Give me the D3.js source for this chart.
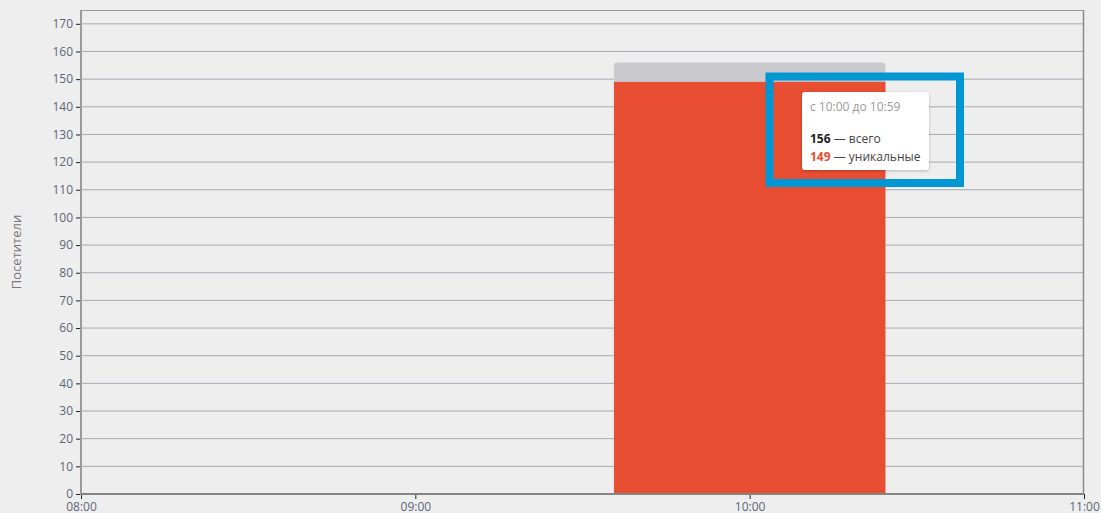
<!DOCTYPE html>
<meta charset="utf-8">
<script src="https://d3js.org/d3.v7.min.js"></script>
<style>
  body { margin: 0; background: #eeeeee; font-family: "Open Sans", sans-serif; }
</style>
<div id="chart"></div>
<script>
// data
const hours = ["08:00", "09:00", "10:00", "11:00"];
const yTicks = d3.range(0, 171, 10);
const barHour = ["10:00"];
const totalVisits = [156];
const uniqueVisits = [149];
const tooltipTitle = "с 10:00 до 10:59";

const W = 1101, H = 513;
const margin = {top: 10, right: 17, bottom: 19, left: 81};
const width = W - margin.left - margin.right,
      height = H - margin.top - margin.bottom;

const svg = d3.select("#chart").append("svg")
    .attr("width", W).attr("height", H)
    .style("display", "block");

const g = svg.append("g").attr("transform", `translate(${margin.left},${margin.top})`);

const parse = d3.timeParse("%H:%M");
const x = d3.scaleTime()
  .domain([parse(hours[0]), parse(hours[hours.length - 1])])
  .range([0, width]);
const y = d3.scaleLinear().domain([0, 175]).range([height, 0]);

// gridlines
g.selectAll(".grid").data(yTicks.slice(1)).join("line")
  .attr("x1", 0).attr("x2", width)
  .attr("y1", d => y(d)).attr("y2", d => y(d))
  .attr("stroke", "#a9abb3").attr("stroke-width", 1);

// frame top / right
g.append("line").attr("x1", 0).attr("x2", width).attr("y1", 0.5).attr("y2", 0.5)
  .attr("stroke", "#9a9a9a");
g.append("line").attr("x1", width - 0.5).attr("x2", width - 0.5).attr("y1", 0).attr("y2", height)
  .attr("stroke", "#8a8a8a").attr("stroke-width", 1.5);

// bars
const hourW = x(parse("09:00")) - x(parse("08:00"));
const bw = hourW * 0.812;
const bars = barHour.map((h, i) => ({t: parse(h), total: totalVisits[i], uniq: uniqueVisits[i]}));

g.selectAll(".total").data(bars).join("path")
  .attr("d", d => {
    const x0 = x(d.t) - bw / 2, x1 = x(d.t) + bw / 2, y0 = y(d.total), y1 = height, r = 3;
    return `M${x0},${y1}V${y0 + r}Q${x0},${y0} ${x0 + r},${y0}H${x1 - r}Q${x1},${y0} ${x1},${y0 + r}V${y1}Z`;
  })
  .attr("fill", "#c9c9ce");

g.selectAll(".uniq").data(bars).join("rect")
  .attr("x", d => x(d.t) - bw / 2)
  .attr("width", bw)
  .attr("y", d => y(d.uniq))
  .attr("height", d => height - y(d.uniq))
  .attr("fill", "#e84e31");

// y axis
const yAxis = g.append("g")
  .call(d3.axisLeft(y).tickValues(yTicks).tickSize(5).tickPadding(3));
yAxis.select(".domain").remove();
yAxis.selectAll(".tick line").attr("stroke", "#222");
yAxis.selectAll("text").attr("fill", "#5c6678").style("font-size", "12px")
  .style("font-family", "'Open Sans', sans-serif");
g.append("line").attr("x1", 0).attr("x2", 0).attr("y1", 0).attr("y2", height + 1)
  .attr("stroke", "#9a9a9a").attr("stroke-width", 2);

// x axis
const xAxis = g.append("g").attr("transform", `translate(0,${height})`)
  .call(d3.axisBottom(x).tickValues(hours.map(parse)).tickFormat(d3.timeFormat("%H:%M"))
    .tickSize(5).tickPadding(3));
xAxis.select(".domain").remove();
xAxis.selectAll(".tick line").attr("stroke", "#222");
xAxis.selectAll("text").attr("fill", "#5c6678").style("font-size", "12px")
  .style("font-family", "'Open Sans', sans-serif");
g.append("line").attr("x1", 0).attr("x2", width).attr("y1", height).attr("y2", height)
  .attr("stroke", "#858585").attr("stroke-width", 2);

// y axis title
svg.append("text")
  .attr("transform", `translate(21,${margin.top + height / 2}) rotate(-90)`)
  .attr("text-anchor", "middle")
  .attr("fill", "#777")
  .style("font-size", "13px")
  .text("Посетители");

// tooltip
const defs = svg.append("defs");
const f = defs.append("filter").attr("id", "sh").attr("x", "-10%").attr("y", "-10%")
  .attr("width", "120%").attr("height", "130%");
f.append("feDropShadow").attr("dx", 0).attr("dy", 1).attr("stdDeviation", 1.5)
  .attr("flood-color", "#000").attr("flood-opacity", 0.25);

const tip = svg.append("g").attr("transform", "translate(802,92)");
tip.append("rect").attr("width", 127).attr("height", 78).attr("rx", 3)
  .attr("fill", "#fff").attr("filter", "url(#sh)");
tip.append("text").attr("x", 8).attr("y", 19).attr("fill", "#9a9a9a")
  .style("font-size", "12px").text(tooltipTitle);
const t1 = tip.append("text").attr("x", 8).attr("y", 51).attr("fill", "#444").style("font-size", "12px");
t1.append("tspan").attr("fill", "#222").attr("font-weight", "bold").text(totalVisits[0]);
t1.append("tspan").text(" — всего");
const t2 = tip.append("text").attr("x", 8).attr("y", 69).attr("fill", "#444").style("font-size", "12px");
t2.append("tspan").attr("fill", "#e84e31").attr("font-weight", "bold").text(uniqueVisits[0]);
t2.append("tspan").text(" — уникальные");

// highlight frame
svg.append("rect").attr("x", 769.5).attr("y", 76.5).attr("width", 190.5).attr("height", 106.5)
  .attr("fill", "none").attr("stroke", "#0097d4").attr("stroke-width", 8);
</script>
